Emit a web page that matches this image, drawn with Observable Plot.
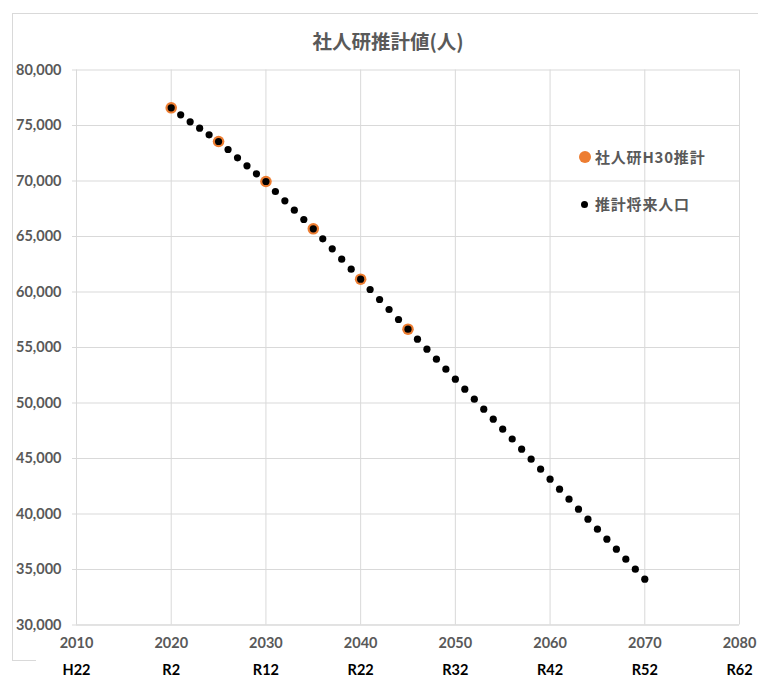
<!DOCTYPE html>
<html>
<head>
<meta charset="utf-8">
<script src="https://cdn.jsdelivr.net/npm/d3@7"></script>
<script src="https://cdn.jsdelivr.net/npm/@observablehq/plot@0.6"></script>
<style>
  body { margin: 0; background: #fff; }
  #wrap { position: relative; width: 758px; height: 677px; overflow: hidden; font-family: Lato, "Noto Sans CJK JP", sans-serif; }
  #frame { position: absolute; left: 12px; top: 13px; width: 800px; height: 648px; border-left: 1px solid #d9d9d9; border-top: 1px solid #d9d9d9; box-sizing: border-box; }
  #frameb { position: absolute; left: 12px; top: 660px; width: 24px; height: 0; border-top: 1px solid #d9d9d9; }
  #title { position: absolute; left: 0; width: 776px; top: 27px; text-align: center; font-size: 19.5px; font-weight: bold; color: #595959; font-family: "Noto Sans CJK JP", sans-serif; line-height: 28px; }
  .leg { position: absolute; font-size: 15px; letter-spacing: 0.8px; font-weight: bold; color: #595959; font-family: "Noto Sans CJK JP", sans-serif; display: flex; align-items: center; line-height: 22px; }
  .leg span.d { display: inline-block; border-radius: 50%; }
  #chart { position: absolute; left: 0; top: 0; }
</style>
</head>
<body>
<div id="wrap">
  <div id="frame"></div>
  <div id="frameb"></div>
  <div id="chart"></div>
  <div id="title">社人研推計値(人)</div>
  <div class="leg" id="leg1" style="left:579px; top:146px;"><span class="d" style="width:12px;height:12px;background:#ED7D31;margin-right:4px;"></span>社人研H30推計</div>
  <div class="leg" id="leg2" style="left:580.5px; top:193px;"><span class="d" style="width:7px;height:7px;background:#000;margin-right:7.5px;"></span>推計将来人口</div>
</div>
<script>
// x-axis decade ticks and Japanese era labels
const decadeTicks = [2010, 2020, 2030, 2040, 2050, 2060, 2070, 2080];
const eraLabels = ["H22", "R2", "R12", "R22", "R32", "R42", "R52", "R62"];
const yTicks = [30000, 35000, 40000, 45000, 50000, 55000, 60000, 65000, 70000, 75000, 80000];

// 推計将来人口 (annual)
const projYears = [2020,2021,2022,2023,2024,2025,2026,2027,2028,2029,2030,2031,2032,2033,2034,2035,2036,2037,2038,2039,2040,2041,2042,2043,2044,2045,2046,2047,2048,2049,2050,2051,2052,2053,2054,2055,2056,2057,2058,2059,2060,2061,2062,2063,2064,2065,2066,2067,2068,2069,2070];
const projValues = [76595,75964,75333,74757,74162,73559,72838,72090,71369,70649,69955,69054,68216,67369,66532,65694,64793,63892,62955,62054,61153,60225,59324,58423,57523,56649,55748,54847,53946,53045,52144,51243,50342,49441,48541,47640,46757,45838,44937,44036,43135,42234,41333,40432,39532,38631,37730,36829,35928,35027,34126];

// 社人研H30推計 (5-year)
const ipssYears = [2020, 2025, 2030, 2035, 2040, 2045];
const ipssValues = [76595, 73559, 69955, 65694, 61153, 56649];

const proj = projYears.map((x, i) => ({x, y: projValues[i]}));
const ipss = ipssYears.map((x, i) => ({x, y: ipssValues[i]}));

const font = 'Lato, "Noto Sans CJK JP", sans-serif';

const chart = Plot.plot({
  width: 758,
  height: 677,
  marginLeft: 76,
  marginRight: 19,
  marginTop: 69.5,
  marginBottom: 52.5,
  x: {domain: [2010, 2080]},
  y: {domain: [30000, 80000]},
  style: {fontFamily: font, background: "transparent", overflow: "visible"},
  marks: [
    Plot.gridX(decadeTicks, {stroke: "#d9d9d9", strokeOpacity: 1}),
    Plot.gridY(yTicks, {stroke: "#d9d9d9", strokeOpacity: 1}),
    Plot.ruleY([30000], {stroke: "#d9d9d9"}),
    Plot.axisY({ticks: yTicks, tickFormat: d3.format(","), tickSize: 4, tickPadding: 11, stroke: "#d9d9d9", strokeOpacity: 1, fill: "#595959", fontWeight: "bold", fontSize: 14.5, label: null}),
    Plot.axisX({ticks: decadeTicks, tickFormat: d => String(d), tickSize: 0, tickPadding: 13, fill: "#595959", fontWeight: "bold", fontSize: 14.5, label: null}),
    Plot.axisX({ticks: decadeTicks, tickFormat: d => eraLabels[decadeTicks.indexOf(d)], tickSize: 0, tickPadding: 40, fill: "#000", fontWeight: "bold", fontSize: 14.5, label: null}),
    Plot.dot(ipss, {x: "x", y: "y", r: 5.8, fill: "#ED7D31", stroke: "none"}),
    Plot.dot(proj, {x: "x", y: "y", r: 3.6, fill: "#000", stroke: "none"})
  ]
});
document.getElementById("chart").appendChild(chart);
</script>
</body>
</html>
